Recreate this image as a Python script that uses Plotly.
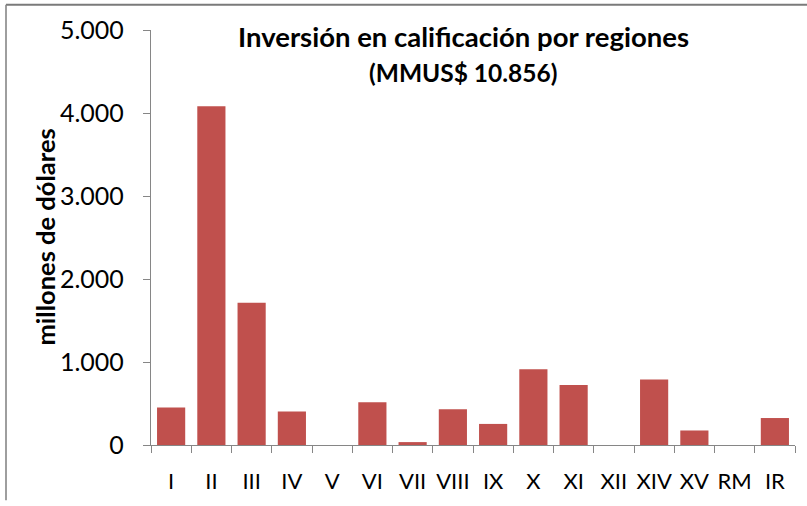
import plotly.graph_objects as go

regions = ["I", "II", "III", "IV", "V", "VI", "VII", "VIII", "IX", "X", "XI", "XII", "XIV", "XV", "RM", "IR"]
inversion = [452, 4080, 1714, 405, 0, 515, 35, 432, 254, 913, 723, 0, 789, 175, 0, 325]
y_tick_vals = [0, 1000, 2000, 3000, 4000, 5000]
y_tick_text = ["0", "1.000", "2.000", "3.000", "4.000", "5.000"]

W, H = 807, 506
L, R, T, B = 151, 12, 30, 56
pw, ph = W - L - R, H - T - B

def px(x):
    return (x - L) / pw

def py(y):
    return (H - B - y) / ph

FONT = "Lato"
AX = "#868686"

fig = go.Figure()
fig.add_trace(go.Bar(
    x=regions, y=inversion,
    marker=dict(color="#C0504D", line=dict(width=0)),
    hoverinfo="x+y",
))

fig.update_layout(
    width=W, height=H,
    margin=dict(l=L, r=R, t=T, b=B, pad=0),
    paper_bgcolor="white", plot_bgcolor="white",
    bargap=0.3,
    showlegend=False,
    font=dict(family=FONT, color="#000000", size=22),
)
fig.update_xaxes(
    type="category",
    showline=True, linecolor=AX, linewidth=1.3,
    ticks="outside", tickson="boundaries", ticklen=7, tickcolor=AX, tickwidth=1.3,
    tickfont=dict(family=FONT, size=22), tickangle=0, ticklabelstandoff=16,
    showgrid=False, zeroline=False,
)
fig.update_yaxes(
    range=[0, 5000],
    tickvals=y_tick_vals, ticktext=y_tick_text,
    showline=True, linecolor=AX, linewidth=1.3,
    ticks="outside", ticklen=7, tickcolor=AX, tickwidth=1.3,
    tickfont=dict(family=FONT, size=25), ticklabelstandoff=14,
    showgrid=False, zeroline=False,
)

fig.add_annotation(
    x=px(463), y=py(37), xref="paper", yref="paper",
    text="<b>Inversión en calificación por regiones</b>",
    showarrow=False, font=dict(family=FONT, size=27.5), xanchor="center", yanchor="middle",
)
fig.add_annotation(
    x=px(463), y=py(73), xref="paper", yref="paper",
    text="<b>(MMUS$ 10.856)</b>",
    showarrow=False, font=dict(family=FONT, size=24.5), xanchor="center", yanchor="middle",
)
fig.add_annotation(
    x=px(44), y=py(240), xref="paper", yref="paper",
    text="<b>millones de dólares</b>", textangle=-90,
    showarrow=False, font=dict(family=FONT, size=25.5), xanchor="center", yanchor="middle",
)

fig.add_shape(type="line", xref="paper", yref="paper", layer="above",
              x0=px(6), x1=px(807), y0=py(4.5), y1=py(4.5), line=dict(color="#7a7a7a", width=2))
fig.add_shape(type="line", xref="paper", yref="paper", layer="above",
              x0=px(6), x1=px(6), y0=py(4.5), y1=py(506), line=dict(color=AX, width=1.6))

fig.write_html("out.html", config={"displayModeBar": False},
               post_script="document.body.style.margin='0'; document.documentElement.scrollTop=0; window.scrollTo(0,0);")
